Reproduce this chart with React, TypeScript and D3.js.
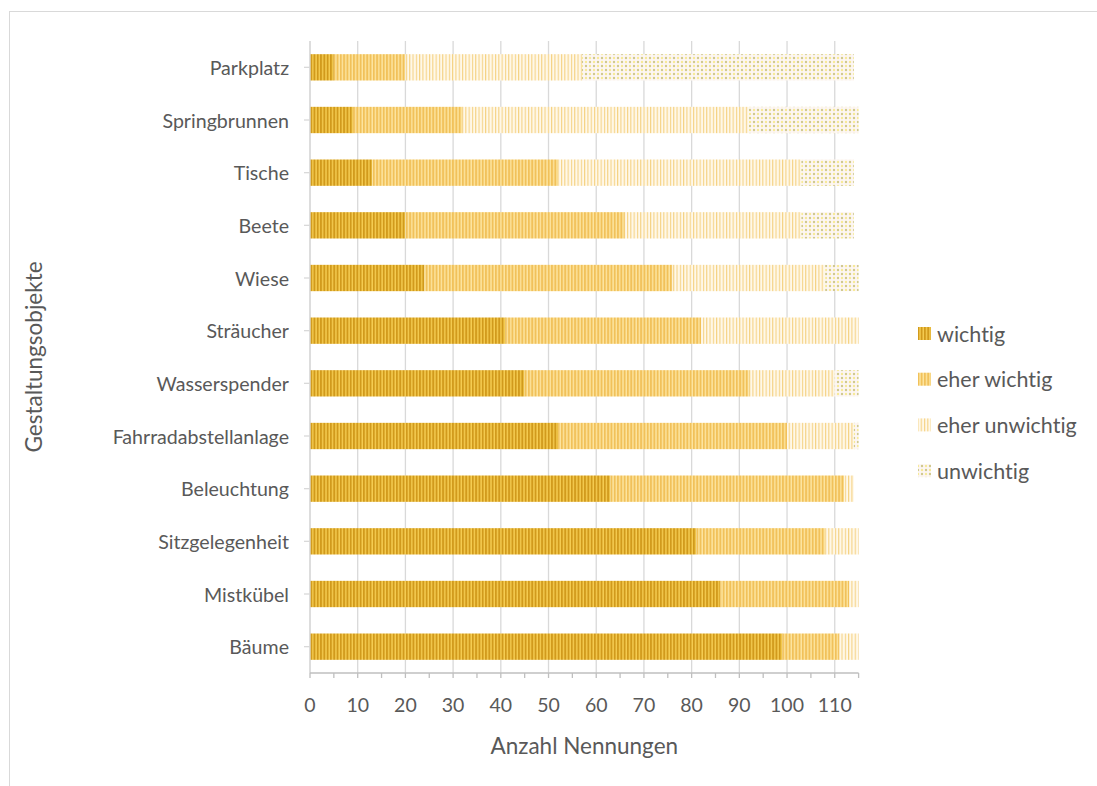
import React from "react";
import * as d3 from "d3";

// Survey: how important each design element is (number of mentions)
const categories = [
  "Parkplatz",
  "Springbrunnen",
  "Tische",
  "Beete",
  "Wiese",
  "Sträucher",
  "Wasserspender",
  "Fahrradabstellanlage",
  "Beleuchtung",
  "Sitzgelegenheit",
  "Mistkübel",
  "Bäume",
];
const wichtig = [5, 9, 13, 20, 24, 41, 45, 52, 63, 81, 86, 99];
const eherWichtig = [15, 23, 39, 46, 52, 41, 47, 48, 49, 27, 27, 12];
const eherUnwichtig = [37, 60, 51, 37, 32, 33, 18, 14, 2, 7, 2, 4];
const unwichtig = [57, 23, 11, 11, 7, 0, 5, 1, 0, 0, 0, 0];

const seriesKeys = ["wichtig", "eher wichtig", "eher unwichtig", "unwichtig"];
const xTicks = [0, 10, 20, 30, 40, 50, 60, 70, 80, 90, 100, 110];
const xMax = 115;

const W = 1097;
const H = 786;
const FONT = "Lato, 'Open Sans', sans-serif";
const TEXT = "#595959";

const rows = categories.map((c, i) => ({
  cat: c,
  wichtig: wichtig[i],
  "eher wichtig": eherWichtig[i],
  "eher unwichtig": eherUnwichtig[i],
  unwichtig: unwichtig[i],
}));

const patternIds = ["pWichtig", "pEherWichtig", "pEherUnwichtig", "pUnwichtig"];

function Patterns() {
  return (
    <defs>
      <pattern id="pWichtig" width={3.3} height={8} patternUnits="userSpaceOnUse">
        <rect width={3.3} height={8} fill="#F6CD52" />
        <rect width={1.9} height={8} fill="#D19A1C" />
      </pattern>
      <pattern id="pEherWichtig" width={3.3} height={8} patternUnits="userSpaceOnUse">
        <rect width={3.3} height={8} fill="#FDE5A0" />
        <rect width={1.9} height={8} fill="#F1C15A" />
      </pattern>
      <pattern id="pEherUnwichtig" width={3.3} height={8} patternUnits="userSpaceOnUse">
        <rect width={3.3} height={8} fill="#FFF8E8" />
        <rect width={1.1} height={8} fill="#F5D285" />
      </pattern>
      <pattern id="pUnwichtig" width={8} height={8} patternUnits="userSpaceOnUse">
        <rect width={8} height={8} fill="#FDF6F3" />
        <circle cx={2} cy={2} r={1.2} fill="#CFC88E" />
        <circle cx={6} cy={6} r={1.2} fill="#CFC88E" />
        <circle cx={6} cy={2} r={1.2} fill="#F7EA96" />
        <circle cx={2} cy={6} r={1.2} fill="#F7EA96" />
      </pattern>
    </defs>
  );
}

export default function App() {
  const plotLeft = 310;
  const plotRight = 858.6;
  const plotTop = 41;
  const plotBottom = 673;

  const x = d3.scaleLinear().domain([0, xMax]).range([plotLeft, plotRight]);
  const y = d3
    .scaleBand<string>()
    .domain(categories)
    .range([plotTop, plotBottom])
    .paddingInner(0.5)
    .paddingOuter(0.25);

  const stack = d3.stack<any>().keys(seriesKeys);
  const stacked = stack(rows);

  const minorTicks = d3.range(0, xMax + 0.001, 5);

  const legendX = 918;
  const legendY0 = 327;
  const legendStep = 45.7;

  return (
    <svg
      width={W}
      height={H}
      style={{ position: "absolute", left: 0, top: 0, background: "#fff", fontVariantLigatures: "none" }}
      fontFamily={FONT}
    >
      <Patterns />
      <rect x={0} y={0} width={W} height={H} fill="#fff" />
      {/* chart frame */}
      <rect x={9.5} y={11.5} width={W + 20} height={H + 20} fill="none" stroke="#D9D9D9" strokeWidth={1} />

      {/* vertical gridlines */}
      {xTicks.map((t) => (
        <line
          key={"g" + t}
          x1={x(t)}
          x2={x(t)}
          y1={plotTop}
          y2={plotBottom}
          stroke="#D9D9D9"
          strokeWidth={1.3}
        />
      ))}

      {/* stacked bars */}
      {stacked.map((s, si) => (
        <g key={s.key} fill={`url(#${patternIds[si]})`}>
          {s.map((d, i) => {
            const w = x(d[1]) - x(d[0]);
            if (w <= 0) return null;
            return (
              <rect
                key={i}
                x={x(d[0])}
                y={y(categories[i])!}
                width={w}
                height={y.bandwidth()}
              />
            );
          })}
        </g>
      ))}

      {/* y axis */}
      <line x1={plotLeft} x2={plotLeft} y1={plotTop} y2={plotBottom} stroke="#D9D9D9" strokeWidth={1.3} />
      {categories.map((c) => {
        const cy = y(c)! + y.bandwidth() / 2;
        return (
          <g key={c}>
            <line x1={plotLeft - 6} x2={plotLeft} y1={cy} y2={cy} stroke="#D9D9D9" strokeWidth={1.3} />
            <text
              x={289}
              y={cy}
              textAnchor="end"
              dominantBaseline="central"
              fontSize={19.6}
              fill={TEXT}
            >
              {c}
            </text>
          </g>
        );
      })}

      {/* x axis */}
      <line x1={plotLeft} x2={plotRight} y1={plotBottom} y2={plotBottom} stroke="#BFBFBF" strokeWidth={1.3} />
      {minorTicks.map((t) => (
        <line key={"t" + t} x1={x(t)} x2={x(t)} y1={plotBottom} y2={plotBottom + 5} stroke="#BFBFBF" strokeWidth={1.3} />
      ))}
      {xTicks.map((t) => (
        <text
          key={"l" + t}
          x={x(t)}
          y={704}
          textAnchor="middle"
          dominantBaseline="central"
          fontSize={19.5}
          fill={TEXT}
        >
          {t}
        </text>
      ))}

      {/* axis titles */}
      <text
        x={(plotLeft + plotRight) / 2}
        y={745}
        textAnchor="middle"
        dominantBaseline="central"
        fontSize={22.5}
        fill={TEXT}
      >
        Anzahl Nennungen
      </text>
      <text
        transform={`translate(33, ${(plotTop + plotBottom) / 2}) rotate(-90)`}
        textAnchor="middle"
        dominantBaseline="central"
        fontSize={22.5}
        fill={TEXT}
      >
        Gestaltungsobjekte
      </text>

      {/* legend */}
      {seriesKeys.map((k, i) => {
        const ly = legendY0 + i * legendStep;
        return (
          <g key={k}>
            <rect x={legendX} y={ly} width={13} height={13} fill={`url(#${patternIds[i]})`} />
            <text x={legendX + 19} y={ly + 6.5} dominantBaseline="central" fontSize={21.5} fill={TEXT}>
              {k}
            </text>
          </g>
        );
      })}
    </svg>
  );
}
